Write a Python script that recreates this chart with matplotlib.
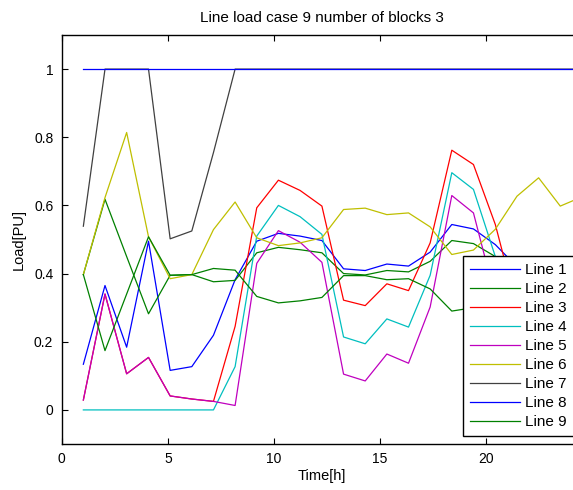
import numpy as np
import matplotlib.pyplot as plt

plt.rcParams['font.family'] = ['Liberation Sans', 'DejaVu Sans']

# time axis (points are a bit wider apart than whole hours)
time_h = [1.02, 2.04, 3.06, 4.09, 5.11, 6.13, 7.15, 8.17, 9.19, 10.21, 11.23, 12.26,
          13.28, 14.30, 15.32, 16.34, 17.36, 18.38, 19.40, 20.43, 21.45, 22.47, 23.49, 24.51]

line_1 = [0.134, 0.365, 0.184, 0.495, 0.116, 0.127, 0.219, 0.382, 0.495, 0.518, 0.510, 0.497,
          0.414, 0.409, 0.428, 0.422, 0.463, 0.544, 0.531, 0.485, 0.42, 0.38, 0.35, 0.30]
line_2 = [0.397, 0.618, 0.450, 0.282, 0.395, 0.397, 0.376, 0.380, 0.461, 0.477, 0.470, 0.461,
          0.400, 0.396, 0.409, 0.405, 0.436, 0.497, 0.488, 0.45, 0.40, 0.36, 0.33, 0.30]
line_3 = [0.029, 0.340, 0.106, 0.154, 0.041, 0.032, 0.025, 0.245, 0.593, 0.674, 0.644, 0.598,
          0.322, 0.306, 0.370, 0.350, 0.490, 0.762, 0.720, 0.544, 0.30, 0.22, 0.16, 0.12]
line_4 = [0.0, 0.0, 0.0, 0.0, 0.0, 0.0, 0.0, 0.127, 0.510, 0.600, 0.567, 0.515,
          0.214, 0.194, 0.267, 0.243, 0.395, 0.696, 0.647, 0.45, 0.30, 0.22, 0.15, 0.10]
line_5 = [0.029, 0.340, 0.106, 0.154, 0.041, 0.032, 0.025, 0.013, 0.430, 0.526, 0.492, 0.433,
          0.105, 0.085, 0.164, 0.137, 0.302, 0.629, 0.578, 0.33, 0.20, 0.12, 0.08, 0.05]
line_6 = [0.397, 0.623, 0.814, 0.508, 0.385, 0.397, 0.529, 0.610, 0.505, 0.482, 0.490, 0.505,
          0.588, 0.592, 0.573, 0.578, 0.537, 0.456, 0.469, 0.530, 0.627, 0.681, 0.598, 0.625]
line_7 = [0.539, 1, 1, 1, 0.502, 0.525, 0.755, 1, 1, 1, 1, 1,
          1, 1, 1, 1, 1, 1, 1, 1, 1, 1, 1, 1]
line_8 = [1] * 24
line_9 = [0.397, 0.174, 0.340, 0.508, 0.395, 0.397, 0.415, 0.410, 0.333, 0.314, 0.320, 0.330,
          0.394, 0.394, 0.382, 0.385, 0.355, 0.290, 0.30, 0.32, 0.35, 0.38, 0.40, 0.42]

series = [line_1, line_2, line_3, line_4, line_5, line_6, line_7, line_8, line_9]
names = ['Line 1', 'Line 2', 'Line 3', 'Line 4', 'Line 5', 'Line 6', 'Line 7', 'Line 8', 'Line 9']

# old matlab colour order
colors = ['#0000ff', '#008000', '#ff0000', '#00bfbf', '#bf00bf', '#bfbf00', '#404040']

yticks = [0, 0.2, 0.4, 0.6, 0.8, 1]
ytick_labels = ['0', '0.2', '0.4', '0.6', '0.8', '1']
xticks = [0, 5, 10, 15, 20]

fig = plt.figure(figsize=(5.73, 4.9), dpi=100)
ax = fig.add_axes([61.7 / 573, 46 / 490, 520 / 573, 409 / 490])

for i, (vals, name) in enumerate(zip(series, names)):
    ax.plot(time_h, vals, color=colors[i % len(colors)], lw=0.9, label=name)

ax.set_xlim(0, 24.5)
ax.set_ylim(-0.1, 1.1)
ax.set_xticks(xticks)
ax.set_yticks(yticks)
ax.set_yticklabels(ytick_labels)
ax.tick_params(direction='in', length=4, width=0.8, top=True, right=True,
               labelsize=10, pad=6)
for sp in ax.spines.values():
    sp.set_linewidth(1.0)

ax.set_title('Line load case 9 number of blocks 3', fontsize=11, pad=9)
ax.set_xlabel('Time[h]', fontsize=10.5, labelpad=2)
ax.set_ylabel('Load[PU]', fontsize=10.5, labelpad=6)

# legend box runs off the right edge in the original
leg = ax.legend(loc='upper left',
                bbox_to_anchor=(462.7 / 573, 1 - 436 / 490, 116 / 573, 180 / 490),
                bbox_transform=fig.transFigure, borderaxespad=0, fontsize=11,
                mode='expand', handlelength=3.3, handletextpad=0.35, labelspacing=0.33,
                borderpad=0.45, fancybox=False, framealpha=1)
leg.get_frame().set_edgecolor('black')
leg.get_frame().set_linewidth(1.0)

fig.savefig('out.png', dpi=100)
